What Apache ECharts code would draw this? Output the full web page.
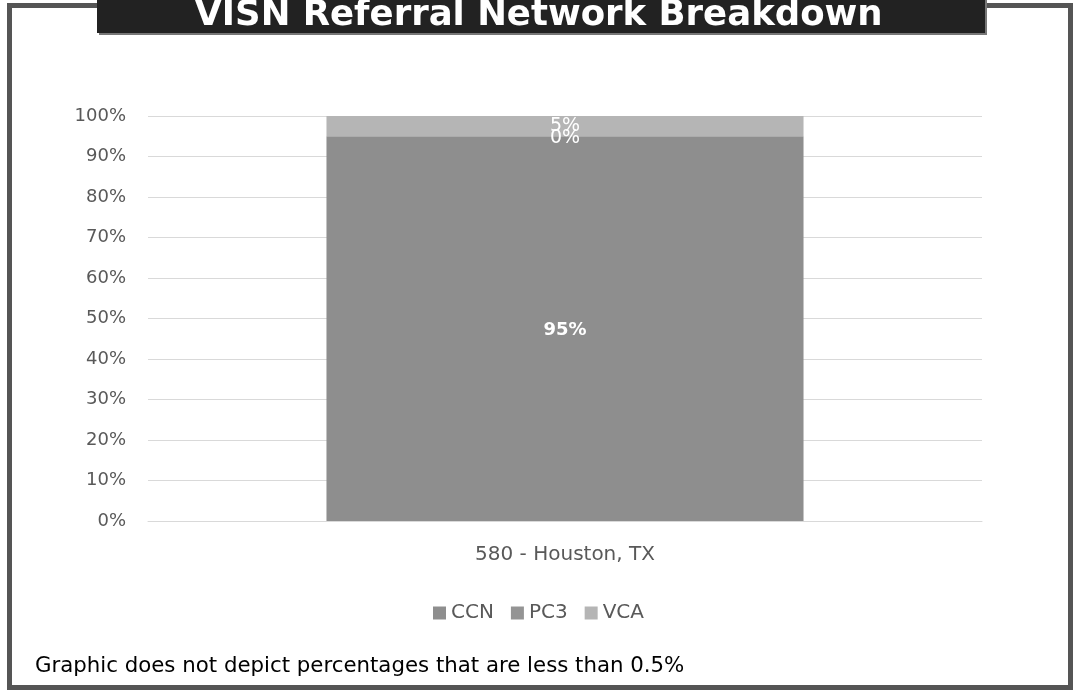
<!DOCTYPE html>
<html>
<head>
<meta charset="utf-8">
<script src="https://cdn.jsdelivr.net/npm/echarts@6/dist/echarts.min.js"></script>
<style>
html,body{margin:0;padding:0;background:#fff;}
#c{width:1077px;height:692px;}
</style>
</head>
<body>
<div id="c"></div>
<script>
const categories = ['580 - Houston, TX'];
const seriesNames = ['CCN', 'PC3', 'VCA'];
const ccnValues = [95];
const pc3Values = [0];
const vcaValues = [5];
const yTicks = [0, 10, 20, 30, 40, 50, 60, 70, 80, 90, 100];

const chart = echarts.init(document.getElementById('c'));
const font = '"DejaVu Sans", sans-serif';
const labelBase = {show: true, position: 'inside', color: '#fff', fontFamily: font, fontSize: 19, formatter: p => p.value + '%'};
chart.setOption({
  animation: false,
  backgroundColor: '#fff',
  title: {
    text: 'VISN Referral Network Breakdown',
    left: 'center', top: -7,
    textStyle: {color: '#fff', fontFamily: font, fontWeight: 'bold', fontSize: 35.5}
  },
  grid: {left: 148, right: 95, top: 116, bottom: 171},
  xAxis: {
    type: 'category', data: categories,
    axisLine: {lineStyle: {color: '#d9d9d9'}},
    axisTick: {show: false},
    axisLabel: {color: '#595959', fontFamily: font, fontSize: 20, margin: 24}
  },
  yAxis: {
    type: 'value', min: yTicks[0], max: yTicks[yTicks.length - 1], interval: 10,
    axisLabel: {color: '#595959', fontFamily: font, fontSize: 18, margin: 22, formatter: '{value}%'},
    splitLine: {lineStyle: {color: '#d9d9d9'}},
    axisLine: {show: false}, axisTick: {show: false}
  },
  legend: {
    data: seriesNames, top: 598, left: 'center',
    itemWidth: 13, itemHeight: 13, itemGap: 17, icon: 'rect',
    textStyle: {color: '#595959', fontFamily: font, fontSize: 20}
  },
  series: [
    {name: 'CCN', type: 'bar', stack: 's', data: ccnValues, barWidth: '57.2%', itemStyle: {color: '#8e8e8e'},
     label: Object.assign({}, labelBase, {fontWeight: 'bold', fontSize: 18, offset: [0, 2]})},
    {name: 'PC3', type: 'bar', stack: 's', data: pc3Values, itemStyle: {color: '#949494'}, label: Object.assign({}, labelBase, {offset: [0, 2]})},
    {name: 'VCA', type: 'bar', stack: 's', data: vcaValues, itemStyle: {color: '#b5b5b5'}, label: labelBase}
  ],
  graphic: [
    {type: 'rect', z: -1, shape: {x: 9.5, y: 5.5, width: 1061, height: 682}, style: {fill: 'none', stroke: '#555', lineWidth: 5}},
    {type: 'rect', z: 0, shape: {x: 99, y: 0, width: 888, height: 35}, style: {fill: '#777'}},
    {type: 'rect', z: 0, shape: {x: 97, y: 0, width: 888, height: 33}, style: {fill: '#222'}},
    {type: 'text', left: 35, top: 656, style: {text: 'Graphic does not depict percentages that are less than 0.5%', fill: '#000', font: '21.3px "DejaVu Sans", sans-serif'}}
  ]
});
</script>
</body>
</html>
